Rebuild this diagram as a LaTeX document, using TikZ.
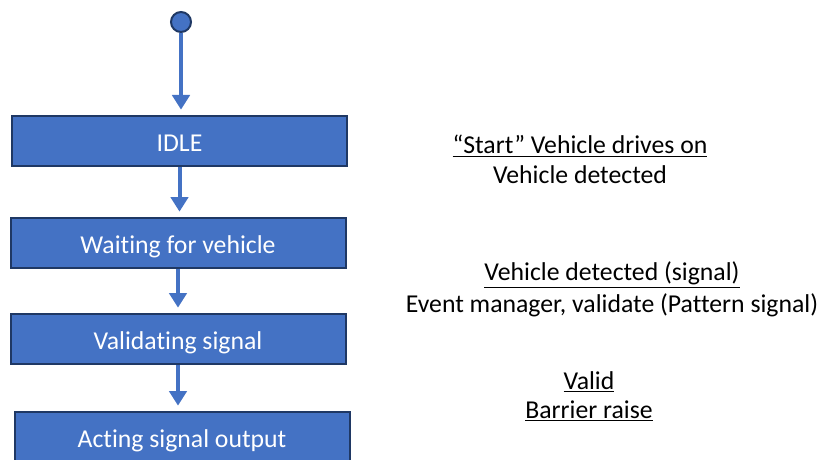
\documentclass[tikz,border=0pt]{standalone}
\usepackage{fontspec}
\setmainfont[Ligatures=NoCommon]{Carlito}
\usepackage{xcolor}
\usetikzlibrary{arrows.meta}

\definecolor{boxblue}{HTML}{4472C4}
\definecolor{boxedge}{HTML}{1F3864}

\tikzset{
  state/.style={draw=boxedge,fill=boxblue,line width=1.5pt,minimum width=251.25pt,minimum height=37.5pt,inner sep=0pt,text=white,text height=16pt,text depth=0pt,font=\fontsize{19.3}{22}\selectfont},
  flow/.style={draw=boxblue,line width=3pt,-{Triangle[length=11pt,width=13pt]},shorten >=4pt},
  note/.style={inner sep=0.75pt,font=\fontsize{19.3}{22}\selectfont}
}

\begin{document}
\begin{tikzpicture}[x=0.75pt,y=0.75pt,yscale=-1,xscale=1]
\clip (0,0) rectangle (822,460);

\node [circle,draw=boxedge,fill=boxblue,line width=1.5pt,minimum size=15pt,inner sep=0pt] (init) at (181,22) {};

\node [state] (idle) at (179.5,141) {IDLE};
\node [state] (wait) at (178,243) {Waiting for vehicle};
\node [state] (valid) at (178,339) {Validating signal};
\node [state] (act) at (182,437) {Acting signal output};

\draw [flow] (init) -- (init |- idle.north);
\draw [flow] (idle.south) -- (idle.south |- wait.north);
\draw [flow] (wait.south) -- (wait.south |- valid.north);
\draw [flow] (valid.south) -- (valid.south |- act.north);

\draw (580,146) node [note] (t1a) {\underline{“Start” Vehicle drives on}};
\draw (580,175) node [note] (t1b) {Vehicle detected};
\draw (612,275) node [note] (t2a) {\underline{Vehicle detected (signal)}};
\draw (612,305) node [note] (t2b) {Event manager, validate (Pattern signal)};
\draw (589,382) node [note] (t3a) {\underline{Valid}};
\draw (589,411) node [note] (t3b) {\underline{Barrier raise}};
\end{tikzpicture}
\end{document}
